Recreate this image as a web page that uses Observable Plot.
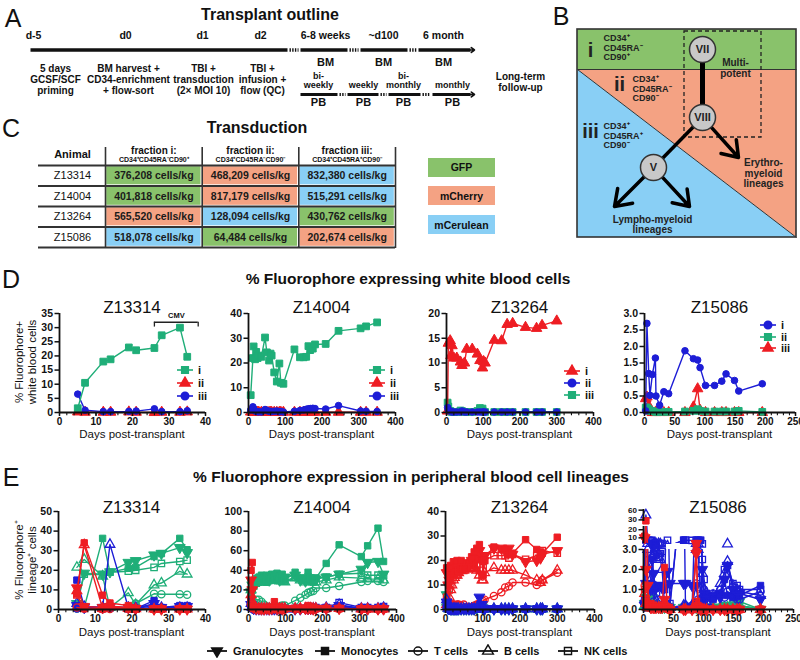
<!DOCTYPE html>
<html><head><meta charset="utf-8">
<script src="https://cdn.jsdelivr.net/npm/d3@7"></script>
<script src="https://cdn.jsdelivr.net/npm/@observablehq/plot@0.6"></script>
<style>
body{margin:0;background:#fff;}
#root{position:relative;width:800px;height:660px;overflow:hidden;font-family:"Liberation Sans",Arial,Helvetica,sans-serif;color:#111;background:#fff;}
.abs{position:absolute;white-space:nowrap;line-height:1;}
</style></head><body><div id="root"></div>
<script>
const FONT = '"Liberation Sans", Arial, Helvetica, sans-serif';
const GREEN = "#1fae78", RED = "#ee1d23", BLUE = "#1d1dd6";
const F_GREEN = "#89c26b", F_SALMON = "#f4a283", F_BLUE = "#89cff5";

// ---------------- Panel A data
const aTimepoints = ["d-5","d0","d1","d2","6-8 weeks","~d100","6 month"];
const aSteps = ["5 days\nGCSF/SCF\npriming","BM harvest +\nCD34-enrichment\n+ flow-sort","TBI +\ntransduction\n(2× MOI 10)","TBI +\ninfusion +\nflow (QC)"];
const aFollowUp = ["Long-term\nfollow-up"];
const aBM = ["BM","BM","BM"];
const aPBFreq = ["bi-\nweekly","weekly","bi-\nmonthly","monthly"];
const aPB = ["PB","PB","PB","PB"];

// ---------------- Panel B data
const bFractions = ["i","ii","iii"];
const bMarkers = ["CD34⁺\nCD45RA⁻\nCD90⁺","CD34⁺\nCD45RA⁻\nCD90⁻","CD34⁺\nCD45RA⁺\nCD90⁻"];
const bNodes = ["VII","VIII","V"];
const bLineages = ["Multi-\npotent","Erythro-\nmyeloid\nlineages","Lympho-myeloid\nlineages"];

// ---------------- Panel C data
const cAnimals = ["Z13314","Z14004","Z13264","Z15086"];
const cFractionHeads = ["fraction i:","fraction ii:","fraction iii:"];
const cFractionMarkers = ["CD34⁺CD45RA⁻CD90⁺","CD34⁺CD45RA⁻CD90⁻","CD34⁺CD45RA⁺CD90⁻"];
const cCells = [[376208,468209,832380],[401818,817179,515291],[565520,128094,430762],[518078,64484,202674]];
const cFluor = [["GFP","mCherry","mCerulean"],["GFP","mCherry","mCerulean"],["mCherry","mCerulean","GFP"],["mCerulean","GFP","mCherry"]];
const fluorophores = ["GFP","mCherry","mCerulean"];

// ---------------- Panel D data (% fluorophore+ WBC)
const fracLabels = ["i","ii","iii"];
const d1Days = [5,7,12,14,19,21,26,28,33,35];
const d1_i   = [1.5,10.5,18,18.8,23,22,22.8,27.3,30,19.7];
const d1_ii  = [0.2,0.1,0.1,0.1,0.2,0.1,0,0.1,0.1,0.2];
const d1_iii = [6.5,0.8,0.3,0.3,0.4,0.5,1.3,0.3,0.3,0.6];
const cmvWindow = [26,38];

const d2Days = [6,12,14,18,21,25,28,35,45,50,56,60,63,70,77,84,88,95,125,140,150,157,163,168,175,181,210,245,305,320,350];
const d2_i   = [7,22,26.7,21.5,24.5,22,23,22.5,30.3,24.3,21,23.8,23,16.2,12.5,19.8,12,11.6,25.5,22.3,22.3,22.5,26.8,25.2,25.8,27.5,27.7,33,34,34.8,36.4];
const d2_ii  = [0.2,0.1,0.1,0.1,0.1,0.1,0.1,0.1,0.1,0.1,0.1,0.1,0.1,0.1,0.1,0.1,0.1,0.1,0.1,0.1,0.1,0.1,0.1,0.1,0.1,0.1,0.1,0.1,0.1,0.1,0.1];
const d2_iii = [1.0,2.3,1.5,0.6,0.5,0.3,0.3,0.2,1.2,0.8,0.5,0.4,0.4,0.5,0.6,0.3,0.4,0.2,0.5,0.8,1.0,1.3,1.5,1.6,1.7,1.6,1.4,2.8,0.6,0.5,0.4];

const d3Days = [3,5,10,12,15,20,28,38,42,49,55,70,84,91,98,101,105,130,150,165,180,215,245,260,300];
const d3_i   = [0.3,14,14.5,11.5,13.5,11,11,10.2,9.5,10,12.8,12.8,11.8,10.5,9,10.3,10,14.6,14.5,17.8,18,17.2,17,17.6,18.5];
const d3_ii  = [1.0,0.5,0.3,0.2,0.1,0.1,0.1,0.1,0.3,0.1,0.1,0.1,0.1,0.1,0.1,0.1,0.1,0.1,0.1,0.1,0.1,0.1,0.1,0.1,0.1];
const d3_iii = [2,1.2,0.3,0.2,0.1,0.1,0.1,0.4,0.3,0.1,0.1,0.1,0.3,0.9,0.8,0.2,0.1,0.1,0.1,0.1,0.1,0.1,0.1,0.1,0.1];

const d4Days = [2,4,7,9,13,18,19,25,32,40,67,81,88,92,101,116,128,135,149,156,195];
const d4_i   = [0.05,2.7,1.18,0.52,1.15,1.65,0.5,0.22,0.63,0.57,1.87,1.63,1.59,1.36,0.82,0.82,0.95,1.17,0.97,0.65,0.87];
const d4_ii  = [0.15,0.15,0.1,0.05,0.04,0.03,0.02,0.02,0.02,0.02,0.03,0.05,0.1,0.05,0.03,0.03,0.03,0.03,0.03,0.05,0.02];
const d4_iii = [0.42,0.47,0.2,0.05,0,0,0,0,0,0,0,0.17,0.72,0.07,0,0,0,0,0,0,0];

// ---------------- Panel E data (% fluorophore+ per lineage): rows = Gran, Mono, T, B, NK
const lineages = ["Granulocytes","Monocytes","T cells","B cells","NK cells"];

const e1Days = [5,7,12,14,19,21,26,28,33,35];
const e1Green = [
  [3,18.5,18,19.2,24,24.9,27.8,28.6,31.6,29],
  [2,1,36.3,19,21,21.5,27,28.5,36.3,30.5],
  [0.5,1,0.5,0.5,1,3,8,7.8,7.8,7.5],
  [21.5,25.5,17,1,8.5,2.5,12.5,13.5,19.5,18],
  [2,18,17.8,19,19.5,20,21.5,23.5,24.5,25.2]];
const e1Red = [
  [11,1.5,1,1.5,1,0.5,0.2,0.2,0.2,0.2],
  [8,34,7.3,3.3,2,0.5,0.3,0.3,0.2,0.2],
  [1,0.5,0.3,0.3,0.5,0.3,0.2,0.2,0.2,0.2],
  [9.5,33,0.5,2,0.5,0.3,0.2,0.2,0.2,0.2],
  [7.5,0.5,0.3,1.5,0.3,0.2,0.2,0.2,0.2,0.2]];
const e1Blue = [
  [2,1,1,1.5,1,0.5,3,1,1.5,1.5],
  [15,1.5,1,1,0.8,0.5,4.5,1,2,2],
  [0.5,0.5,0.3,0.5,0.3,0.3,1,0.5,0.5,0.5],
  [3,1.5,1,33.2,1,1,2.5,1,1,1],
  [1,1,0.8,1,0.5,0.5,2,0.8,1,1]];

const e2Days = [7,10,14,21,28,35,42,49,56,63,70,77,84,91,98,126,140,154,161,168,175,182,210,245,305,322,350,365];
const e2Green = [
  [18,25,28,30,32,33,31,33,30,34,33,32,30,32,33,35,30,29,32,31,30,31,33,36,41,48,49,36],
  [10,22,28,30,33,35,32,35,33,36,35,37,34,36,30,38,32,30,38,30,28,32,47,66,54,65,83,49],
  [3,6,8,10,10,8,5,3,2,2,3,2,3,4,4,9,12,15,17,18,19,22,22,24,28,29,29,28],
  [20,24,27,28,28,30,28,29,30,31,30,31,29,30,28,32,30,28,30,29,28,28,30,33,32,31,31,30],
  [15,20,25,27,28,29,29,28,30,31,32,30,30,31,29,33,32,30,33,32,31,32,33,36,37,35,35,35]];
const e2Red = [
  [30,20,2,1,1,0.5,0.5,1,0.5,1,2,1,1,0.5,0.5,1,1,1,1,1,0.5,1,1,1,0.5,0.5,0.5,0.5],
  [40,48,3,1,1,0.5,1,1,1,2,8,3,1,1,0.5,1,1,1,4,1,1,1,1,1,0.5,0.5,0.5,0.5],
  [5,3,1,0.5,0.5,0.5,0.5,0.5,0.5,0.5,0.5,0.5,0.5,0.5,0.5,0.5,0.5,0.5,0.5,0.5,0.5,0.5,0.5,0.5,0.3,0.3,0.3,0.3],
  [15,8,2,1,1,1,1,1,1,1,2,1,1,1,1,1,1,1,1,1,1,1,1,1,0.5,0.5,0.5,0.5],
  [10,5,1,1,1,1,1,1,1,1,1,1,1,1,1,1,1,1,1,1,1,1,1,1,0.5,0.5,0.5,0.5]];
const e2Blue = [
  [5,2,1,0.5,0.5,0.5,0.5,0.5,0.5,0.5,0.5,0.5,0.5,0.5,0.5,0.5,0.5,1,1,1,1,1,1.5,4,1,1,1,1],
  [8,3,1,0.5,0.5,0.5,0.5,0.5,0.5,0.5,0.5,0.5,0.5,0.5,0.5,0.5,0.5,0.5,1,1,1,1,1,3,0.5,0.5,0.5,1],
  [2,1,0.5,0.5,0.5,0.5,0.5,0.5,0.5,0.5,0.5,0.5,0.5,0.5,0.5,0.5,0.5,0.5,0.5,0.5,0.5,0.5,0.5,1,0.5,0.5,0.5,0.5],
  [6,2,1,0.5,0.5,0.5,0.5,0.5,0.5,0.5,0.5,0.5,0.5,0.5,0.5,0.5,0.5,1,1,1,1,1,2,5,1,1,1,2],
  [10,3,1,1,1,1,1,1,1,1,1,1,1,1,1,1,1,1,1.5,2,2,2,2,7,2,2,2,3]];

const e3Days = [3,7,10,14,17,21,24,28,31,35,42,49,56,63,70,77,84,91,98,101,105,130,150,160,170,180,215,245,255,260,300];
const e3Red = [
  [15,10,12,15,17,16,16,17,17,17,16,17,18,18,20,19,21,24,22,20,22,25,25,24,25,22.5,19.5,20,21,22.5,24],
  [17,2,17,18,17,19.5,15,18,20,16,20,17,19,19,21.5,23.5,25,26.5,20,14,20,25.5,24.5,24.5,22.5,23,28.5,24.5,23.5,23,29.5],
  [1,0.5,1,1.5,2,2,1.5,1.5,2,2,1.5,2,1,1,1,1.5,2,2.5,3,3.5,4,5.5,7,9,9.5,11,11,10,11,12,15],
  [2,1,5,8,10,12,13,14,14,15,16,16,16.5,17,17,16.5,16,14,12,12,15,17,16,16,16,16,14,12,11,12,16],
  [5,3,8,10,12,14,14,15,15,16,17,16,17,17,17,17,18,16,14,17,20,22,22,22,21,22.5,20.5,22,23,24,23]];
const e3Blue = [
  [3,0.5,0.3,0.2,0.2,0.2,0.2,0.2,0.2,0.2,0.2,0.2,0.2,0.2,0.2,0.2,1,5,2,0.5,0.3,0.2,0.2,0.2,0.2,0.2,0.2,0.2,0.2,0.2,0.2],
  [1,0.3,0.2,0.2,0.2,0.2,0.2,0.2,0.2,0.2,0.2,0.2,0.2,0.2,0.2,0.2,0.2,0.3,0.3,0.2,0.2,0.2,0.2,0.3,0.2,0.2,0.2,0.2,0.2,0.2,0.2],
  [0.5,0.2,0.2,0.2,0.2,0.2,0.2,0.2,0.2,0.2,0.2,0.2,0.2,0.2,0.2,0.2,0.2,0.5,0.5,0.3,0.2,0.2,0.2,0.2,0.2,0.2,0.2,0.2,0.2,0.2,0.2],
  [4,0.5,0.3,0.3,0.3,0.3,0.3,0.3,0.3,0.3,0.3,0.3,0.3,0.3,0.3,0.3,0.5,1,0.8,0.3,0.3,0.3,0.3,0.3,0.3,0.3,0.3,0.3,0.3,0.3,0.3],
  [2,0.5,0.3,0.3,0.3,0.3,0.3,0.3,0.3,0.3,0.3,0.3,0.3,0.3,0.3,0.3,0.3,0.8,0.5,0.3,0.3,0.3,0.3,0.3,0.3,0.3,0.3,0.3,0.3,0.3,0.3]];
const e3Green = [
  [6,1,0.3,0.2,0.2,0.2,0.2,0.2,0.2,0.2,0.2,0.2,0.2,0.2,0.2,0.2,0.5,2,1,0.3,0.2,0.2,0.2,0.2,0.2,0.2,0.2,0.2,0.2,0.2,0.2],
  [5,2,0.5,0.3,0.2,0.2,0.2,0.2,0.2,0.2,0.2,0.2,0.2,0.2,0.2,0.2,0.3,1,0.5,0.2,0.2,0.2,0.2,0.2,0.2,0.2,0.2,0.2,0.2,0.2,0.2],
  [1,0.3,0.2,0.2,0.2,0.2,0.2,0.2,0.2,0.2,0.2,0.2,0.2,0.2,0.2,0.2,0.2,0.3,0.3,0.2,0.2,0.2,0.2,0.2,0.2,0.2,0.2,0.2,0.2,0.2,0.2],
  [3,0.5,0.2,0.2,0.2,0.2,0.2,0.2,0.2,0.2,0.2,0.2,0.2,0.2,0.2,0.2,0.2,0.5,0.3,0.2,0.2,0.2,0.2,0.2,0.2,0.2,0.2,0.2,0.2,0.2,0.2],
  [2,0.5,0.2,0.2,0.2,0.2,0.2,0.2,0.2,0.2,0.2,0.2,0.2,0.2,0.2,0.2,0.2,0.4,0.3,0.2,0.2,0.2,0.2,0.2,0.2,0.2,0.2,0.2,0.2,0.2,0.2]];

const e4Days = [2,4,7,9,12,14,17,19,21,25,28,31,35,40,44,67,70,81,88,91,95,98,101,105,116,128,135,140,149,156,160,195];
const e4Blue = [
  [0.2,1.3,1.2,1.3,1.0,2.5,1.8,1.0,1.1,1.2,1.2,1.1,1.1,1.9,1.3,1.3,1.3,1.2,1.2,0.4,0.3,2.0,0.8,0.6,0.7,0.6,1.5,2.2,1.0,0.7,0.8,0.5],
  [0.3,7.5,0.2,0.1,0.2,0.1,0.2,0.1,0.1,0.1,0.2,0.1,0.2,0.1,0.1,7.2,0.1,0.1,7,7,7,0.3,0.6,0.7,0.5,0.8,1.5,0.7,0.6,0.8,0.7,1.2],
  [0.3,0.5,0.2,0.3,0.2,0.2,0.4,1.2,0.8,0.5,0.4,0.2,0.2,0.1,0.1,0.1,0.2,0.2,1.3,0.5,0.5,0.5,1.0,0.3,0.8,1.0,0.6,0.9,0.7,0.5,0.5,0.9],
  [0.5,45,3,2,1.5,1.2,2.8,2.8,2.5,2.8,2.5,2,0.3,0.2,0.1,0.2,0.2,0.2,3,3,0.5,1.8,1.0,0.4,0.7,1.3,1.8,2.4,1.2,1.0,0.9,0.7],
  [0.5,7.5,7,7,6.5,6.8,2.8,2.9,2.9,2.6,2.8,2.9,1.0,7,0.3,7,7.2,6.8,6.8,7,7,2.5,1.5,0.8,0.6,0.8,2.0,2.2,1.3,1.2,1.0,1.0]];
const e4Green = [
  [0.3,0.6,0.4,0.3,0.2,0.6,0.3,0.2,0.2,0.1,0.1,0.1,0.1,0.1,0.1,0.1,0.1,0.1,0.1,0.1,0.1,0.1,0.1,0.1,0.1,0.1,0.2,0.2,0.7,0.5,0.4,0],
  [0.2,0.3,0.2,0.2,0.1,0.3,0.2,0.1,0.1,0.1,0.1,0.1,0.1,0.1,0.1,0.1,0.1,0.1,0.1,0.1,0.1,0.1,0.1,0.1,0.1,0.1,0.1,0.1,0.2,0.2,0.2,0],
  [0.1,0.2,0.1,0.1,0.1,0.1,0.1,0.1,0.1,0.1,0.1,0.1,0.1,0.1,0.1,0.1,0.1,0.1,0.1,0.1,0.1,0.1,0.1,0.1,0.1,0.1,0.1,0.1,0.1,0.1,0.1,0],
  [0.2,0.4,0.3,0.2,0.1,0.2,0.1,0.1,0.1,0.1,0.1,0.1,0.1,0.1,0.1,0.1,0.1,0.1,0.1,0.1,0.1,0.1,0.1,0.1,0.1,0.1,0.1,0.1,0.3,0.3,0.2,0],
  [0.2,0.3,0.5,0.2,0.1,0.3,0.1,0.1,0.1,0.1,0.1,0.1,0.1,0.1,0.1,0.1,0.1,0.1,0.1,0.1,0.1,0.1,0.1,0.1,0.1,0.1,0.1,0.1,0.2,0.2,0.2,0]];
const e4Red = [
  [10,2,1.2,0.3,0.1,0.1,0.1,0.1,0.1,0.1,0.1,0.1,0.5,0.1,0,0,0,0,2.8,0.1,0,0,0,0,0,0,0,0,0,0,0,0],
  [12,27,0.3,0.1,0.1,0.1,0.1,0.1,0.1,0.1,0.1,0.1,2.1,0.1,0,0,0,0,3,0.2,0,0,0,0,0,0,0,0,0,0,0,0],
  [1.2,0.5,0.2,0.1,0.1,0.1,0.1,0.1,0.1,0.1,0.1,0.1,0.1,0.1,0,0,0,0,0.3,0.1,0,0,0,0,0,0,0,0,0,0,0,0],
  [0.8,0.3,0.1,0.1,0.1,0.1,0.1,0.1,0.1,0.1,0.1,0.1,0.1,0.1,0,0,0,0,0.2,0.1,0,0,0,0,0,0,0,0,0,0,0,0],
  [1,0.4,0.1,0.1,0.1,0.1,0.1,0.1,0.1,0.1,0.1,0.1,0.1,0.1,0,0,0,0,0.4,0.1,0,0,0,0,0,0,0,0,0,0,0,0]];

// ================= rendering helpers =================
const root = document.getElementById("root");
const baseStyle = {background:"none", fontFamily:FONT, fontSize:"10px", fontWeight:"bold", color:"#111", overflow:"visible"};
function place(node, left, top){ node.style.position="absolute"; node.style.left=left+"px"; node.style.top=top+"px"; root.appendChild(node); }
function txt(x, y, s, o = {}) {
  const d = document.createElement("div");
  d.className = "abs"; d.textContent = s;
  d.style.left = x + "px"; d.style.top = y + "px";
  d.style.fontSize = (o.size || 11) + "px";
  d.style.fontWeight = o.bold ? "bold" : "normal";
  const a = o.anchor || "middle";
  let tf = a === "middle" ? "translate(-50%,-50%)" : a === "start" ? "translate(0,-50%)" : "translate(-100%,-50%)";
  if (o.rotate) tf += ` rotate(${o.rotate}deg)`;
  d.style.transform = tf;
  root.appendChild(d);
}
const TRI_DOWN = {draw(ctx, size){ const y = -Math.sqrt(size/(3*Math.sqrt(3))); ctx.moveTo(0,-2*y); ctx.lineTo(-Math.sqrt(3)*y, y); ctx.lineTo(Math.sqrt(3)*y, y); ctx.closePath(); }};
// minor tick glyphs (short strokes hanging off the axis line)
const TICK_DOWN = {draw(ctx){ ctx.moveTo(0,0); ctx.lineTo(0,2.8); }};
const SYM = {square: d3.symbolSquare, triangle: d3.symbolTriangle, circle: d3.symbolCircle, triDown: TRI_DOWN};
const plotSym = s => s === "triDown" ? TRI_DOWN : s;
function legendItem(cx, cy, color, sym, filled, label, o = {}) {
  const len = o.len || 16, r = o.r || 3.8;
  const ns = "http://www.w3.org/2000/svg";
  const svg = document.createElementNS(ns, "svg");
  svg.setAttribute("width", len + 4); svg.setAttribute("height", 14);
  const ln = document.createElementNS(ns, "line");
  ln.setAttribute("x1", 2); ln.setAttribute("x2", len + 2); ln.setAttribute("y1", 7); ln.setAttribute("y2", 7);
  ln.setAttribute("stroke", color); ln.setAttribute("stroke-width", o.lw || 1.6);
  svg.appendChild(ln);
  const p = document.createElementNS(ns, "path");
  p.setAttribute("d", d3.symbol().type(SYM[sym]).size(Math.PI * r * r)());
  p.setAttribute("transform", `translate(${len/2 + 2},7)`);
  p.setAttribute("fill", filled ? color : "none"); p.setAttribute("stroke", color); p.setAttribute("stroke-width", 1.4);
  svg.appendChild(p);
  place(svg, cx - len/2 - 2, cy - 7);
  txt(cx + len/2 + (o.gap || 5), cy, label, {size: o.size || 11, bold: true, anchor: "start"});
}

// ================= Panel A =================
const LA = {timeX:[33,125,202,260,325,383,443], stepX:[55,128,203,262], bmX:[325,383,443], pbX:[318,363,403,452],
  main:[[30,287],[300,347],[360,407],[418,470]], mainGaps:[[289,298],[349,358],[409,417]],
  pb:[[300,337],[347,378],[388,420],[432,470]], pbGaps:[[339,345],[380,386],[422,430]]};
const segRows = (arr, y) => arr.map(([a, b]) => ({x1:a, x2:b, y}));
place(Plot.plot({
  width:560, height:112, margin:0,
  x:{domain:[0,560], range:[0,560], axis:null}, y:{domain:[0,112], range:[0,112], axis:null},
  style: baseStyle,
  marks:[
    Plot.link(segRows(LA.main,49.5), {x1:"x1", x2:"x2", y1:"y", y2:"y", stroke:"#111", strokeWidth:3.4}),
    Plot.link(segRows(LA.mainGaps,49.5), {x1:"x1", x2:"x2", y1:"y", y2:"y", stroke:"#111", strokeWidth:3.4, strokeDasharray:"1.4,1.3"}),
    Plot.link(segRows(LA.pb,94), {x1:"x1", x2:"x2", y1:"y", y2:"y", stroke:"#111", strokeWidth:3}),
    Plot.link(segRows(LA.pbGaps,94), {x1:"x1", x2:"x2", y1:"y", y2:"y", stroke:"#111", strokeWidth:3, strokeDasharray:"1.4,1.3"}),
    Plot.arrow([{y:49.5},{y:94}], {x1:462, x2:474, y1:"y", y2:"y", stroke:"#111", strokeWidth:1.6, headLength:11, headAngle:75}),
    Plot.text(aTimepoints, {x:(d,i)=>LA.timeX[i], y:35, text:d=>d, fontSize:10.5, fontWeight:"bold"}),
    Plot.text(aBM, {x:(d,i)=>LA.bmX[i], y:62, text:d=>d, fontSize:11, fontWeight:"bold"}),
    Plot.text(aSteps, {x:(d,i)=>LA.stepX[i], y:79, text:d=>d, fontSize:10, fontWeight:"bold", lineHeight:1.1}),
    Plot.text(aFollowUp, {x:520, y:81.5, text:d=>d, fontSize:10, fontWeight:"bold", lineHeight:1.1}),
    Plot.text(aPBFreq, {x:(d,i)=>LA.pbX[i], y:d=>85 - (d.split("\n").length-1)*4.5, text:d=>d, fontSize:9, fontWeight:"bold", lineHeight:1.0}),
    Plot.text(aPB, {x:(d,i)=>LA.pbX[i], y:101.5, text:d=>d, fontSize:11, fontWeight:"bold"})
  ]}), 0, 0);
txt(270, 15, "Transplant outline", {size:16, bold:true});
txt(13, 18, "A", {size:25});

// ================= Panel B =================
const LB = {nodes:[[702,49],[702,117],[653,167]], frac:[[590,50],[619,84],[590,131]], markers:[[603,47],[632,88],[603,135]],
  lineage:[[735,67.5],[763,173],[652,224]]};
const bLinks = [{x1:702,y1:49,x2:702,y2:117,w:5},{x1:702,y1:117,x2:653,y2:167,w:3.5}];
const bArrows = [{x1:702,y1:117,x2:738,y2:157},{x1:653,y1:167,x2:614,y2:206},{x1:653,y1:167,x2:689,y2:206}];
place(Plot.plot({
  width:260, height:245, margin:0,
  x:{domain:[540,800], range:[0,260], axis:null}, y:{domain:[0,245], range:[0,245], axis:null},
  style: baseStyle,
  marks:[
    Plot.rect([0], {x1:577, x2:796, y1:29, y2:69, fill:F_GREEN}),
    Plot.areaY([{x:577,a:69,b:69},{x:796,a:69,b:237}], {x:"x", y1:"a", y2:"b", fill:F_SALMON}),
    Plot.areaY([{x:577,a:69,b:237},{x:796,a:237,b:237}], {x:"x", y1:"a", y2:"b", fill:F_BLUE}),
    Plot.link([0], {x1:577, y1:69, x2:796, y2:237, stroke:"#333", strokeWidth:1}),
    Plot.link([0], {x1:577, y1:69, x2:796, y2:69, stroke:"#333", strokeWidth:1}),
    Plot.rect([0], {x1:577, x2:796, y1:29, y2:237, fill:"none", stroke:"#333", strokeWidth:1.6}),
    Plot.rect([0], {x1:684, x2:761, y1:31, y2:137, fill:"none", stroke:"#222", strokeWidth:1.3, strokeDasharray:"4,3"}),
    Plot.link(bLinks, {x1:"x1", y1:"y1", x2:"x2", y2:"y2", stroke:"#000", strokeWidth:"w"}),
    Plot.arrow(bArrows, {x1:"x1", y1:"y1", x2:"x2", y2:"y2", stroke:"#000", strokeWidth:3.5, headLength:9, headAngle:70, insetStart:12}),
    Plot.dot(bNodes, {x:(d,i)=>LB.nodes[i][0], y:(d,i)=>LB.nodes[i][1], r:13, fill:"#c8c8c8", stroke:"#333", strokeWidth:1.5}),
    Plot.text(bNodes, {x:(d,i)=>LB.nodes[i][0], y:(d,i)=>LB.nodes[i][1], text:d=>d, fontSize:11, fontWeight:"bold", fill:"#222"}),
    Plot.text(bFractions, {x:(d,i)=>LB.frac[i][0], y:(d,i)=>LB.frac[i][1], text:d=>d, fontSize:20, fontWeight:"bold", fill:"#222"}),
    Plot.text(bMarkers, {x:(d,i)=>LB.markers[i][0], y:(d,i)=>LB.markers[i][1], text:d=>d, fontSize:9, fontWeight:"bold", textAnchor:"start", lineHeight:1.05, fill:"#222"}),
    Plot.text(bLineages, {x:(d,i)=>LB.lineage[i][0], y:(d,i)=>LB.lineage[i][1], text:d=>d, fontSize:10, fontWeight:"bold", lineHeight:1.05, fill:"#222"})
  ]}), 540, 0);
txt(561, 16, "B", {size:25});

// ================= Panel C =================
const LC = {colEdges:[105,201.7,298.3,395], rowEdges:[165,185.5,206,226.5,247], left:38, top:147, bottom:248, animalX:72};
const cRows = cAnimals.flatMap((a, r) => fluorophores.map((_, c) => ({r, c, fluor:cFluor[r][c], label:d3.format(",")(cCells[r][c]) + " cells/kg"})));
const cMid = i => (LC.colEdges[i] + LC.colEdges[i+1]) / 2;
const rMid = i => (LC.rowEdges[i] + LC.rowEdges[i+1]) / 2;
place(Plot.plot({
  width:400, height:110, margin:0,
  x:{domain:[0,400], range:[0,400], axis:null}, y:{domain:[140,250], range:[0,110], axis:null},
  color:{domain:fluorophores, range:[F_GREEN,F_SALMON,F_BLUE]},
  style: baseStyle,
  marks:[
    Plot.rect(cRows, {x1:d=>LC.colEdges[d.c], x2:d=>LC.colEdges[d.c+1], y1:d=>LC.rowEdges[d.r], y2:d=>LC.rowEdges[d.r+1], fill:"fluor", inset:1.2}),
    Plot.text(cRows, {x:d=>cMid(d.c), y:d=>rMid(d.r), text:"label", fontSize:10.5, fontWeight:"bold", fill:"#1a1a1a"}),
    Plot.text(cAnimals, {x:LC.animalX, y:(d,i)=>rMid(i), text:d=>d, fontSize:11, fontWeight:"normal"}),
    Plot.text(["Animal"], {x:LC.animalX, y:154, text:d=>d, fontSize:11, fontWeight:"bold"}),
    Plot.text(cFractionHeads, {x:(d,i)=>cMid(i), y:150.5, text:d=>d, fontSize:10, fontWeight:"bold"}),
    Plot.text(cFractionMarkers, {x:(d,i)=>cMid(i), y:159, text:d=>d, fontSize:7, fontWeight:"bold"}),
    Plot.ruleX(LC.colEdges, {y1:LC.top, y2:LC.bottom, stroke:"#333", strokeWidth:1.6}),
    Plot.ruleY(LC.rowEdges, {x1:LC.left, x2:395, stroke:"#333", strokeWidth:1.8})
  ]}), 0, 140);
txt(257, 128, "Transduction", {size:16, bold:true});
txt(11, 128, "C", {size:25});
[[F_GREEN,167],[F_SALMON,195.5],[F_BLUE,224.5]].forEach(([col, cy], i) => {
  const d = document.createElement("div");
  d.style.cssText = `width:67px;height:19px;background:${col};`;
  place(d, 428, cy - 9.5);
  txt(461.5, cy, fluorophores[i], {size:10.5, bold:true});
});

// ================= line charts (D and E) =================
function lineChart(cfg) {
  const mL = 44, mR = 14, mT = 8, mB = 24;
  const segs = cfg.segments || [{yd:cfg.yd, yt:cfg.yt, yf:cfg.yf, top:cfg.top, h:cfg.h, xAxis:true}];
  for (const seg of segs) {
    const marks = [];
    const lo = seg.yd[0], hi = seg.yd[1], span = hi - lo;
    for (const s of cfg.series) {
      const rows = cfg.days.map((d, i) => ({x:d, y:s.v[i]})).filter(r => r.y != null);
      const dotRows = cfg.segments ? rows.filter(r => r.y >= lo - 0.03*span && r.y <= hi + 0.03*span) : rows;
      marks.push(Plot.line(rows, {x:"x", y:"y", stroke:s.c, strokeWidth:1.4, clip: !!cfg.segments}));
      marks.push(Plot.dot(dotRows, {x:"x", y:"y", symbol:plotSym(s.sym), r:s.r || 3.6,
        fill: s.open ? "none" : s.c, stroke:s.c, strokeWidth: s.open ? 1.3 : 1}));
    }
    if (cfg.extra && seg.xAxis) marks.push(...cfg.extra);
    marks.push(Plot.ruleX([cfg.xd[0]], {stroke:"#111", strokeWidth:1.8}));
    if (seg.xAxis) {
      marks.push(Plot.ruleY([lo], {stroke:"#111", strokeWidth:1.8}));
      marks.push(Plot.dot(cfg.xm, {x:d=>d, y:lo, symbol:TICK_DOWN, fill:"none", stroke:"#111", strokeWidth:1.1}));
      marks.push(Plot.axisX({ticks:cfg.xt, tickSize:4, tickPadding:1, strokeWidth:1.5, label:null, fontSize:10}));
    }
    marks.push(Plot.axisY({ticks:seg.yt, tickSize:4.5, tickPadding:2, strokeWidth:1.5, label:null, tickFormat:seg.yf, fontSize: seg.fs || 10.5}));
    const svg = Plot.plot({
      width: cfg.w + mL + mR, height: seg.h + mT + mB,
      marginLeft:mL, marginRight:mR, marginTop:mT, marginBottom:mB,
      x:{domain:cfg.xd, axis: seg.xAxis ? undefined : null}, y:{domain:seg.yd},
      style: baseStyle, marks
    });
    place(svg, cfg.left - mL, seg.top - mT);
  }
  txt(cfg.left + cfg.w/2, cfg.titleY, cfg.title, {size:17});
  txt(cfg.left + cfg.w/2, cfg.xLabelY, "Days post-transplant", {size:11.5});
}
const range = (a, b, s) => d3.range(a, b + s/2, s);

// ----- Panel D
const dTop = 313, dH = 99;
const dCharts = [
  {title:cAnimals[0], left:59, w:146, xd:[0,40], xt:range(0,40,10), xm:range(0,40,2), yd:[0,35], yt:range(0,35,5), days:d1Days,
   series:[{v:d1_ii,c:RED,sym:"triangle",r:3.9},{v:d1_iii,c:BLUE,sym:"circle",r:3.3},{v:d1_i,c:GREEN,sym:"square",r:3.8}],
   legend:{x:185, ys:[370,383,396], items:[[GREEN,"square"],[RED,"triangle"],[BLUE,"circle"]]}},
  {title:cAnimals[1], left:248, w:147, xd:[0,400], xt:range(0,400,100), xm:range(0,400,20), yd:[0,40], yt:range(0,40,10), days:d2Days,
   series:[{v:d2_ii,c:RED,sym:"triangle",r:3.9},{v:d2_i,c:GREEN,sym:"square",r:3.8},{v:d2_iii,c:BLUE,sym:"circle",r:3.3}],
   legend:{x:377, ys:[370,383,396], items:[[GREEN,"square"],[RED,"triangle"],[BLUE,"circle"]]}},
  {title:cAnimals[2], left:446, w:147, xd:[0,400], xt:range(0,400,100), xm:range(0,400,20), yd:[0,20], yt:range(0,20,5), days:d3Days,
   series:[{v:d3_iii,c:GREEN,sym:"square",r:3.8},{v:d3_i,c:RED,sym:"triangle",r:3.9},{v:d3_ii,c:BLUE,sym:"circle",r:3.3}],
   legend:{x:572, ys:[371,383,395], items:[[RED,"triangle"],[BLUE,"circle"],[GREEN,"square"]]}},
  {title:cAnimals[3], left:644, w:151, xd:[0,250], xt:range(0,250,50), xm:range(0,250,10), yd:[0,3], yt:range(0,3,0.5), yf:d3.format(".1f"), days:d4Days,
   series:[{v:d4_iii,c:RED,sym:"triangle",r:3.9},{v:d4_ii,c:GREEN,sym:"square",r:3.8},{v:d4_i,c:BLUE,sym:"circle",r:3.3}],
   legend:{x:768, ys:[325,337,348], items:[[BLUE,"circle"],[GREEN,"square"],[RED,"triangle"]]}}
];
dCharts[0].extra = [
  Plot.ruleY([31.9], {x1:cmvWindow[0], x2:cmvWindow[1], stroke:"#222", strokeWidth:1.3}),
  Plot.ruleX(cmvWindow, {y1:30.2, y2:31.9, stroke:"#222", strokeWidth:1.3}),
  Plot.text(["CMV"], {x:(cmvWindow[0]+cmvWindow[1])/2, y:34.3, text:d=>d, fontSize:7.5, fontWeight:"bold"})
];
for (const c of dCharts) {
  lineChart({...c, top:dTop, h:dH, titleY:307, xLabelY:435});
  c.legend.items.forEach(([col, sym], i) => legendItem(c.legend.x, c.legend.ys[i], col, sym, true, fracLabels[i]));
}
txt(11, 279, "D", {size:25});
txt(408, 279, "% Fluorophore expressing white blood cells", {size:15.5, bold:true});
txt(20, 362, "% Fluorophore+", {size:11.5, rotate:-90});
txt(32.5, 362, "white blood cells", {size:11.5, rotate:-90});

// ----- Panel E
const lineageSyms = [["triDown",false],["square",false],["circle",true],["triangle",true],["square",true]];
const eSeries = (sets) => sets.flatMap(([vals, col]) => vals.map((v, k) => ({v, c:col, sym:lineageSyms[k][0], open:lineageSyms[k][1], r: lineageSyms[k][0]==="triDown" ? 4 : 3.6})));
const eTop = 511, eH = 98;
const eCharts = [
  {title:cAnimals[0], left:58, w:147, xd:[0,40], xt:range(0,40,10), xm:range(0,40,2), yd:[0,50], yt:range(0,50,10), days:e1Days,
   series:eSeries([[e1Green,GREEN],[e1Blue,BLUE],[e1Red,RED]])},
  {title:cAnimals[1], left:248, w:148, xd:[0,400], xt:range(0,400,100), xm:range(0,400,20), yd:[0,100], yt:range(0,100,20), days:e2Days,
   series:eSeries([[e2Green,GREEN],[e2Blue,BLUE],[e2Red,RED]])},
  {title:cAnimals[2], left:445, w:149, xd:[0,400], xt:range(0,400,100), xm:range(0,400,20), yd:[0,40], yt:range(0,40,10), days:e3Days,
   series:eSeries([[e3Green,GREEN],[e3Red,RED],[e3Blue,BLUE]])},
  {title:cAnimals[3], left:643, w:150, xd:[0,250], xt:range(0,250,50), xm:range(0,250,10), days:e4Days,
   series:eSeries([[e4Green,GREEN],[e4Blue,BLUE],[e4Red,RED]]),
   segments:[
     {yd:[0,3], yt:[0,1,2,3], top:549, h:60, xAxis:true},
     {yd:[3,24], yt:[10,20], top:526, h:17, fs:8},
     {yd:[25,62], yt:[30,60], top:509, h:12, fs:8}]}
];
for (const c of eCharts) lineChart({...c, top:eTop, h:eH, titleY:507, xLabelY:633});
txt(11, 477, "E", {size:25});
txt(411, 477, "% Fluorophore expression in peripheral blood cell lineages", {size:15.5, bold:true});
txt(20, 560, "% Fluorophore⁺", {size:11.5, rotate:-90});
txt(32.5, 560, "lineage⁺ cells", {size:11.5, rotate:-90});
const eLegendX = [217,325,418,488,568];
lineages.forEach((name, k) => legendItem(eLegendX[k], 651, "#111", lineageSyms[k][0], !lineageSyms[k][1], name, {len:20, r:4, gap:6, lw:1.8}));
</script></body></html>
